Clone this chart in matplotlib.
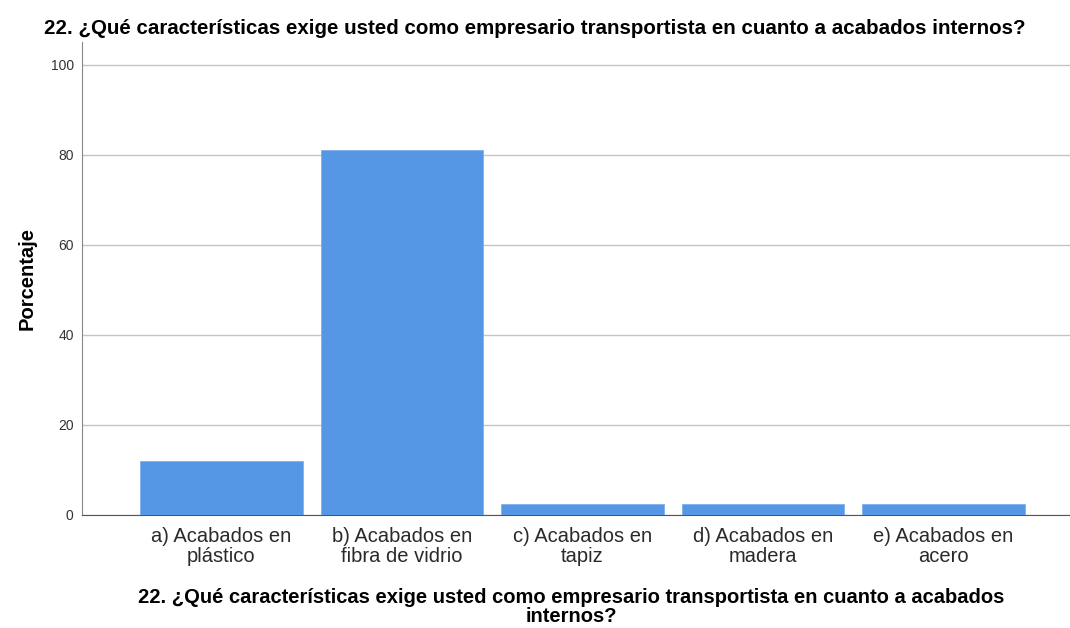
import matplotlib.pyplot as plt

plt.rcParams['font.family'] = ['Liberation Sans', 'DejaVu Sans']

categories = ["a) Acabados en\nplástico", "b) Acabados en\nfibra de vidrio",
              "c) Acabados en\ntapiz", "d) Acabados en\nmadera", "e) Acabados en\nacero"]
porcentaje = [11.9, 81.0, 2.4, 2.4, 2.4]
yticks = [0, 20, 40, 60, 80, 100]

titulo = "22. ¿Qué características exige usted como empresario transportista en cuanto a acabados internos?"
xtitulo = "22. ¿Qué características exige usted como empresario transportista en cuanto a acabados\ninternos?"

fig = plt.figure(figsize=(10.7, 6.28), dpi=100)
ax = fig.add_axes([0.0766, 0.18, 0.9234, 0.753])

x = list(range(len(categories)))
ax.bar(x, porcentaje, width=0.9, color="#5596e5", edgecolor="#7fb0ee", linewidth=0.6, zorder=3)

ax.set_xlim(-0.772, 4.70)
ax.set_ylim(0, 105)
ax.set_yticks(yticks)
ax.yaxis.grid(True, color="#c4c4c4", linewidth=1.0, zorder=0)
ax.set_xticks(x)
ax.set_xticklabels(categories, fontsize=14.5, color="#2a2a2a", linespacing=1.05)
ax.tick_params(axis="x", length=0, pad=9)
ax.tick_params(axis="y", length=0, pad=6, labelsize=10, labelcolor="#333333")

for s in ["top", "right"]:
    ax.spines[s].set_visible(False)
ax.spines["left"].set_color("#888888")
ax.spines["bottom"].set_color("#555555")

ax.set_ylabel("Porcentaje", fontsize=14.5, fontweight="bold", labelpad=10)
fig.text(0.5, 0.955, titulo, ha="center", va="center", fontsize=14.8, fontweight="bold")
fig.text(0.534, 0.064, xtitulo, ha="center", va="top", fontsize=14.5, fontweight="bold", linespacing=1.0)

fig.savefig("out.png", dpi=100)
